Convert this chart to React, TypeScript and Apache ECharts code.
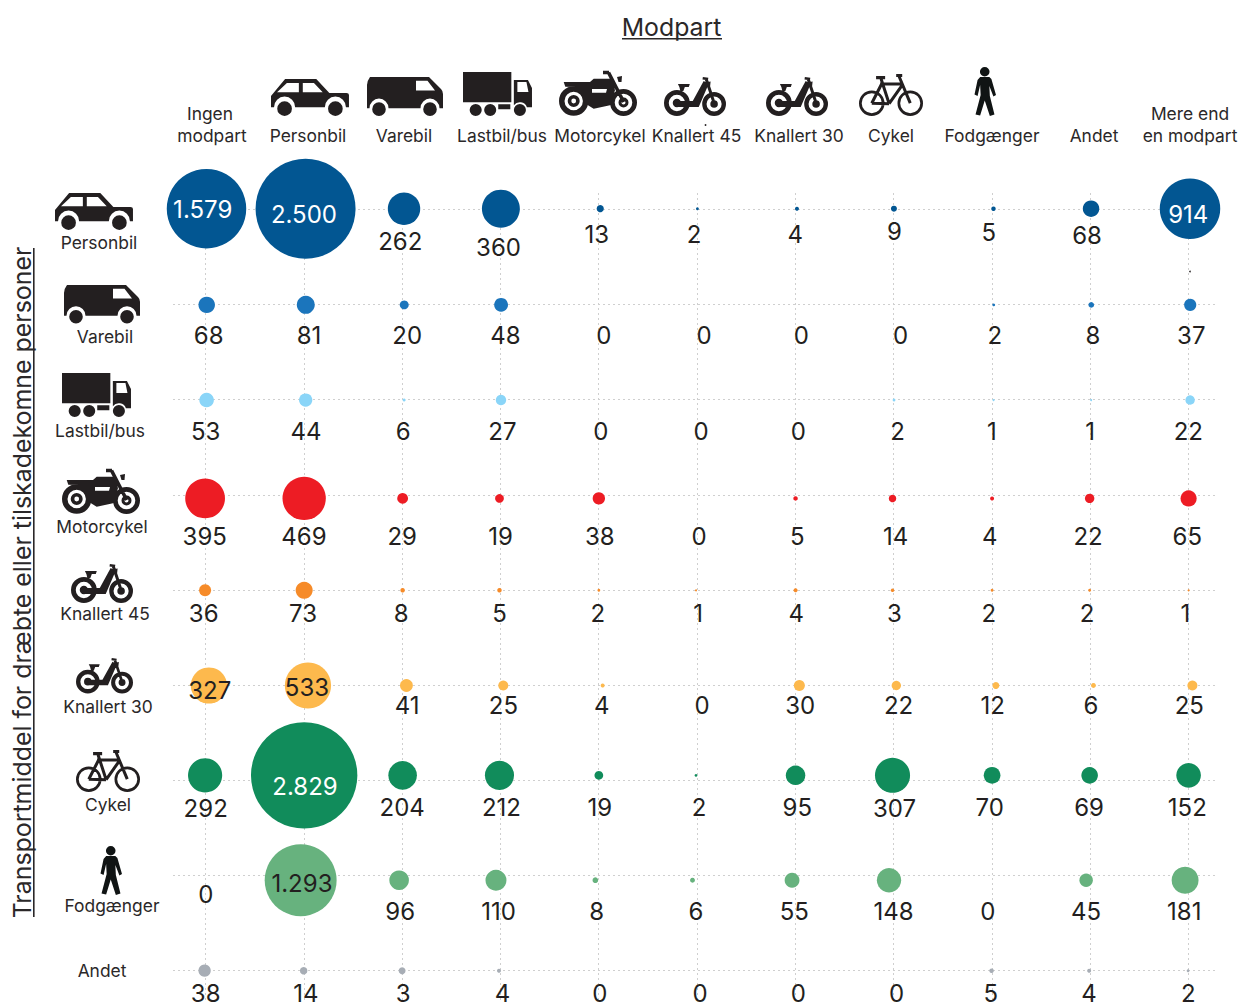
import React, { useEffect, useRef } from "react";
import * as echarts from "echarts";

const columns = ["Ingen modpart", "Personbil", "Varebil", "Lastbil/bus", "Motorcykel", "Knallert 45", "Knallert 30", "Cykel", "Fodgænger", "Andet", "Mere end en modpart"];
const rows = ["Personbil", "Varebil", "Lastbil/bus", "Motorcykel", "Knallert 45", "Knallert 30", "Cykel", "Fodgænger", "Andet"];

const personbil = [1579, 2500, 262, 360, 13, 2, 4, 9, 5, 68, 914];
const varebil = [68, 81, 20, 48, 0, 0, 0, 0, 2, 8, 37];
const lastbil = [53, 44, 6, 27, 0, 0, 0, 2, 1, 1, 22];
const motorcykel = [395, 469, 29, 19, 38, 0, 5, 14, 4, 22, 65];
const knallert45 = [36, 73, 8, 5, 2, 1, 4, 3, 2, 2, 1];
const knallert30 = [327, 533, 41, 25, 4, 0, 30, 22, 12, 6, 25];
const cykel = [292, 2829, 204, 212, 19, 2, 95, 307, 70, 69, 152];
const fodgaenger = [0, 1293, 96, 110, 8, 6, 55, 148, 0, 45, 181];
const andet = [38, 14, 3, 4, 0, 0, 0, 0, 5, 4, 2];
const values = [personbil, varebil, lastbil, motorcykel, knallert45, knallert30, cykel, fodgaenger, andet];

// three bubbles in the picture are drawn at another size than their printed number implies
const drawnAs: Record<string, number> = { "8,2": 12, "2,2": 2.3, "4,2": 5 };

const rowColors = ["#025692", "#1b75bc", "#8ad5f8", "#ed1c24", "#f68b29", "#fdb94d", "#118c5b", "#67b27e", "#a7adb5"];
const whiteLabelRows = [0, 6];

// small shift of the bubbles from the grid crossing, in px
const rowNudge = [[1.4, -0.6], [1.6, 0.4], [1.5, 0.4], [0, 3.6], [0, 0.3], [3.8, 0.3], [0, -5], [-3.5, 4.7], [-0.5, 0]];
const colNudge = [-0.6, 0.2, 0.4, -1, 0.1, -1, 0.3, -1, 0.3, -0.4, 0.3];
// where each number sits relative to its grid crossing, in px
const labelDx = [
  [-3, 0, -2, -2, -2, -3, 0, 1, -3, -3, 0],
  [3, 5, 5, 5, 5, 7, 6, 7, 3, 3, 3],
  [0, 2, 1, 2, 2, 4, 3, 4, 0, 0, 0],
  [-1, 0, 0, 0, 1, 2, 2, 2, -2, -2, -1],
  [-2, -1, -1, -1, -1, 1, 1, 1, -3, -3, -3],
  [4, 3, 5, 3, 3, 5, 5, 5, 1, 1, 1],
  [0, 1, 0, 1, 1, 2, 2, 1, -2, -1, -1],
  [0, -2, -2, -2, -2, -1, -1, 0, -4, -4, -4],
  [0, 2, 1, 2, 1, 3, 3, 3, -1, -1, 0],
];
const labelDy = [
  [0, 5, 32, 38, 25, 25, 25, 22, 23, 26, 5],
  [31, 31, 31, 31, 31, 31, 31, 31, 31, 31, 31],
  [31.5, 31.5, 31.5, 31.5, 31.5, 31.5, 31.5, 31.5, 31.5, 31.5, 31.5],
  [41.5, 41.5, 41.5, 41.5, 41.5, 41.5, 41.5, 41.5, 41.5, 41.5, 41.5],
  [23, 23, 23, 23, 23, 23, 23, 23, 23, 23, 23],
  [5, 2.5, 20, 20, 20, 20, 20, 20, 20, 20, 20],
  [28, 6, 27, 27, 27, 27, 27, 28, 27, 27, 27],
  [19, 8, 35.5, 35.5, 35.5, 35.5, 35.5, 35.5, 35.5, 35.5, 35.5],
  [22.3, 22.3, 22.3, 22.3, 22.3, 22.3, 22.3, 22.3, 22.3, 22.3, 22.3],
];

// ---- icon outlines ----
type P = [number, number];
const poly = (pts: P[], hole = false) => {
  let a = 0;
  pts.forEach((p, i) => {
    const q = pts[(i + 1) % pts.length];
    a += p[0] * q[1] - q[0] * p[1];
  });
  const cw = a > 0;
  const list = cw !== hole ? pts : [...pts].reverse();
  return "M" + list.map((p) => p[0] + " " + p[1]).join("L") + "Z";
};
const circle = (cx: number, cy: number, r: number, hole = false) => {
  const s = hole ? 0 : 1;
  return `M${cx - r} ${cy}A${r} ${r} 0 1 ${s} ${cx + r} ${cy}A${r} ${r} 0 1 ${s} ${cx - r} ${cy}Z`;
};
const seg = (x1: number, y1: number, x2: number, y2: number, w: number) => {
  const dx = x2 - x1;
  const dy = y2 - y1;
  const l = Math.hypot(dx, dy) || 1;
  const nx = (dy / l) * (w / 2);
  const ny = (-dx / l) * (w / 2);
  return poly([[x1 + nx, y1 + ny], [x2 + nx, y2 + ny], [x2 - nx, y2 - ny], [x1 - nx, y1 - ny]]);
};
const wheel = (cx: number, cy: number, r: number, inner: number, hub: number, dot: number) =>
  circle(cx, cy, r) + circle(cx, cy, inner, true) + circle(cx, cy, hub) + (dot > 0 ? circle(cx, cy, dot, true) : "");

const carPath =
  "M14 0L45 0L58 14L75 14Q77.5 14 77.5 16L77.5 28L74.5 28A10.5 10.5 0 0 0 53.5 28L24 28A10.5 10.5 0 0 0 3 28L0 28L0 17Z" +
  poly([[6, 13.3], [27.7, 13.3], [27.7, 4], [15.8, 4]], true) +
  poly([[31.6, 4], [42.7, 4], [51.4, 13.3], [31.6, 13.3]], true) +
  circle(13.5, 29.5, 7.3) + circle(64, 29.5, 7.3);
const vanPath =
  "M3 0L62 0L74 12Q76 14 76 17L76 31L72.5 31A9.5 9.5 0 0 0 53.5 31L21.5 31A9.5 9.5 0 0 0 2.5 31L0 31L0 8Q0 4 3 0Z" +
  poly([[49, 13.5], [68, 13.5], [60.5, 3.7], [49, 3.7]], true) +
  circle(12, 32, 6.8) + circle(63, 32, 6.8);
const truckPath =
  poly([[0, 0], [48, 0], [48, 30], [0, 30]]) +
  "M50.5 8L64.5 8L68.5 16L68.5 35L63.5 35A7.5 7.5 0 0 0 50.5 33Z" +
  poly([[54, 20], [65, 20], [63, 10], [54, 10]], true) +
  poly([[35, 32], [47, 32], [47, 37], [35, 37]]) +
  circle(12.6, 37.8, 6) + circle(27, 37.8, 6) + circle(56.5, 37.8, 6);
const motorcyclePath =
  poly([[4.7, 11], [31, 11], [34.7, 7.7], [53, 7.7], [56, 19.3], [51, 34.3], [34.7, 37.7], [29, 34.3], [27, 24.3], [18, 16], [6.3, 15.7]]) +
  poly([[33, 18], [48, 18], [47, 21.7], [33, 21.7]], true) +
  seg(44, 1.5, 50, 1.5, 3.4) + seg(49.5, 1.5, 64.7, 31, 3.6) +
  poly([[58, 6], [63, 5], [62.5, 11], [59.5, 11]]) +
  wheel(14.7, 30, 14.7, 9.2, 6, 2.4) + wheel(64.5, 31.5, 13.5, 8.8, 5, 2);
const mopedPath =
  poly([[14, 7], [26, 7], [25, 10], [21, 10], [19.5, 14], [16.5, 14], [15.5, 10]]) +
  poly([[40, 4], [45, 7], [35, 30], [13, 30], [13, 24], [29, 24]]) +
  seg(39, 1.2, 44.5, 2, 2.6) + seg(42.5, 2, 50.5, 26, 3) +
  poly([[44, 5], [47, 4.5], [46.5, 9], [45.5, 9]]) +
  wheel(13, 26, 13, 8.2, 4.2, 0) + wheel(50.5, 27, 12, 7.6, 3.8, 0);
const bikePath =
  circle(12.7, 29, 12.7) + circle(12.7, 29, 10, true) + circle(51, 29, 12.7) + circle(51, 29, 10, true) +
  seg(22, 5, 30, 29.5, 3) + seg(21, 10, 43, 10, 3) + seg(30, 29.5, 43, 11, 3) +
  seg(12.7, 29, 23, 9, 3) + seg(12.7, 29, 30, 29.5, 3) + seg(39.5, 1.5, 51, 29, 3) +
  seg(17, 3.5, 26, 3.5, 3.2) + seg(37, 1.5, 43, 1.5, 3);
const walkerPath =
  circle(10.5, 4.7, 4.7) +
  poly([[6, 10], [15, 10], [17, 12], [21.5, 28], [19, 29.5], [15, 19], [15.5, 29], [20, 47.5], [15.5, 49], [10.5, 33.5], [6, 48.5], [1.5, 47.5], [6.5, 28], [6, 18], [3.5, 29], [0.5, 27.5], [3.5, 13]]);

const shapes: Record<string, { d: string; w: number; h: number; fill: string }> = {
  iconCar: { d: carPath, w: 77.5, h: 36.8, fill: "#231f20" },
  iconVan: { d: vanPath, w: 76, h: 38.8, fill: "#231f20" },
  iconTruck: { d: truckPath, w: 68.5, h: 43.8, fill: "#231f20" },
  iconMotorcycle: { d: motorcyclePath, w: 78, h: 45, fill: "#231f20" },
  iconMoped: { d: mopedPath, w: 62.5, h: 39, fill: "#231f20" },
  iconBike: { d: bikePath, w: 63.7, h: 41.7, fill: "#231f20" },
  iconWalker: { d: walkerPath, w: 21.5, h: 49, fill: "#101414" },
};
Object.keys(shapes).forEach((k) => {
  echarts.graphic.registerShape(k, echarts.graphic.extendPath(shapes[k].d, {}) as any);
});

const iconBoxes: [string, number, number, number, number][] = [
  ["iconCar", 271, 79, 78, 37],
  ["iconVan", 367, 77, 76, 39],
  ["iconTruck", 463, 72, 69, 44],
  ["iconMotorcycle", 559, 71, 78, 45],
  ["iconMoped", 664, 77, 62, 39],
  ["iconMoped", 766, 77, 62, 39],
  ["iconBike", 859, 74, 64, 42],
  ["iconWalker", 974, 67, 22, 49],
  ["iconCar", 55, 193, 78, 37],
  ["iconVan", 64, 285, 76, 38.5],
  ["iconTruck", 62, 373, 69, 44],
  ["iconMotorcycle", 62, 469, 78, 45],
  ["iconMoped", 71, 564, 62, 39],
  ["iconMoped", 76, 658, 57, 35.5],
  ["iconBike", 76, 750, 64, 42],
  ["iconWalker", 100, 846, 22, 49],
];

const columnTexts: [string, number, number][] = [
  ["Ingen", 210, 113.2], ["modpart", 212, 135.2], ["Personbil", 308, 135.2], ["Varebil", 404, 135.2],
  ["Lastbil/bus", 502, 135.2], ["Motorcykel", 600, 135.2], ["Knallert 45", 696.5, 135.2], ["Knallert 30", 799, 135.2],
  ["Cykel", 891, 135.2], ["Fodgænger", 992, 135.2], ["Andet", 1094, 135.2], ["Mere end", 1190, 113.2], ["en modpart", 1190, 135.2],
];
const rowTexts: [string, number, number][] = [
  ["Personbil", 99, 242.2], ["Varebil", 105, 336.2], ["Lastbil/bus", 100, 430.2], ["Motorcykel", 102, 526.2],
  ["Knallert 45", 105, 613.2], ["Knallert 30", 108, 706.2], ["Cykel", 108, 804.2], ["Fodgænger", 112, 905.2], ["Andet", 102, 970.2],
];

const FONT = "Inter";
const fmt = (v: number) => String(v).replace(/\B(?=(\d{3})+$)/g, ".");

export default function App() {
  const ref = useRef<HTMLDivElement>(null);
  useEffect(() => {
    document.body.style.margin = "0";
    const chart = echarts.init(ref.current!, undefined, { renderer: "svg" });
    const dotted = { show: true, interval: 0, lineStyle: { color: "#cfcfcf", width: 1, type: [2, 3] as any } };
    const hidden = { axisLine: { show: false }, axisTick: { show: false }, axisLabel: { show: false } };

    const textEl = (t: string, x: number, y: number, size: number, extra: any = {}) => ({
      type: "text", x, y, silent: true, ...extra,
      style: { text: t, fontFamily: FONT, fontSize: size, fill: "#2b2829", textAlign: "center", textVerticalAlign: "middle" },
    });

    const graphicEls: any[] = [
      textEl("Modpart", 671.5, 26.5, 24.8),
      { type: "rect", silent: true, shape: { x: 622, y: 38, width: 100, height: 1.6 }, style: { fill: "#2b2829" } },
      textEl("Transportmiddel for dræbte eller tilskadekomne personer", 22, 582.5, 24.9, { rotation: Math.PI / 2 }),
      { type: "rect", silent: true, shape: { x: 33, y: 248, width: 1.6, height: 669 }, style: { fill: "#2b2829" } },
      { type: "circle", silent: true, shape: { cx: 1190, cy: 271.5, r: 0.8 }, style: { fill: "#231f20" } },
      { type: "circle", silent: true, shape: { cx: 705.5, cy: 125, r: 0.9 }, style: { fill: "#231f20" } },
      ...columnTexts.map(([t, x, y]) => textEl(t, x, y, 17.4)),
      ...rowTexts.map(([t, x, y]) => textEl(t, x, y, 17.4)),
      ...iconBoxes.map(([k, x, y, w, h]) => ({
        type: k, x, y, silent: true,
        scaleX: w / shapes[k].w, scaleY: h / shapes[k].h,
        style: { fill: shapes[k].fill },
      })),
    ];

    chart.setOption({
      animation: false,
      backgroundColor: "#ffffff",
      textStyle: { fontFamily: FONT },
      grid: [
        { left: 205.7, right: 57.7, top: 209.3, height: 761.4 },
        { left: 173, right: 28, top: 209.3, height: 761.4 },
        { left: 205.7, right: 57.7, top: 193, bottom: 0 },
      ],
      xAxis: [
        { gridIndex: 0, type: "category", data: columns, boundaryGap: false, ...hidden, splitLine: { show: false } },
        { gridIndex: 1, type: "value", min: 0, max: 1, ...hidden, splitLine: { show: false } },
        { gridIndex: 2, type: "category", data: columns, boundaryGap: false, ...hidden, splitLine: dotted },
      ],
      yAxis: [
        { gridIndex: 0, type: "category", data: rows, inverse: true, boundaryGap: false, ...hidden, splitLine: { show: false } },
        { gridIndex: 1, type: "category", data: rows, inverse: true, boundaryGap: false, ...hidden, splitLine: dotted },
        { gridIndex: 2, type: "value", min: 0, max: 1, ...hidden, splitLine: { show: false } },
      ],
      series: rows.map((name, r) => ({
        name,
        type: "scatter",
        xAxisIndex: 0,
        yAxisIndex: 0,
        silent: true,
        clip: false,
        z: 5,
        symbol: "circle",
        symbolSize: (d: number[]) => 2 * Math.sqrt(d[3]),
        itemStyle: { color: rowColors[r], opacity: 1 },
        data: values[r].map((v, c) => {
          const nx = rowNudge[r][0] + colNudge[c];
          const ny = rowNudge[r][1];
          const key = r + "," + c;
          return {
            value: [c, r, v, key in drawnAs ? drawnAs[key] : v],
            symbolOffset: [nx, ny],
            label: {
              show: true,
              position: "inside",
              formatter: fmt(v),
              fontFamily: FONT,
              fontSize: 24,
              lineHeight: 20,
              color: v >= 900 && whiteLabelRows.includes(r) ? "#ffffff" : "#231f20",
              offset: [labelDx[r][c] - nx, labelDy[r][c] - ny],
            },
          };
        }),
      })),
      graphic: { elements: graphicEls },
    });
    return () => chart.dispose();
  }, []);
  return <div ref={ref} style={{ width: 1246, height: 1003, display: "block" }} />;
}
